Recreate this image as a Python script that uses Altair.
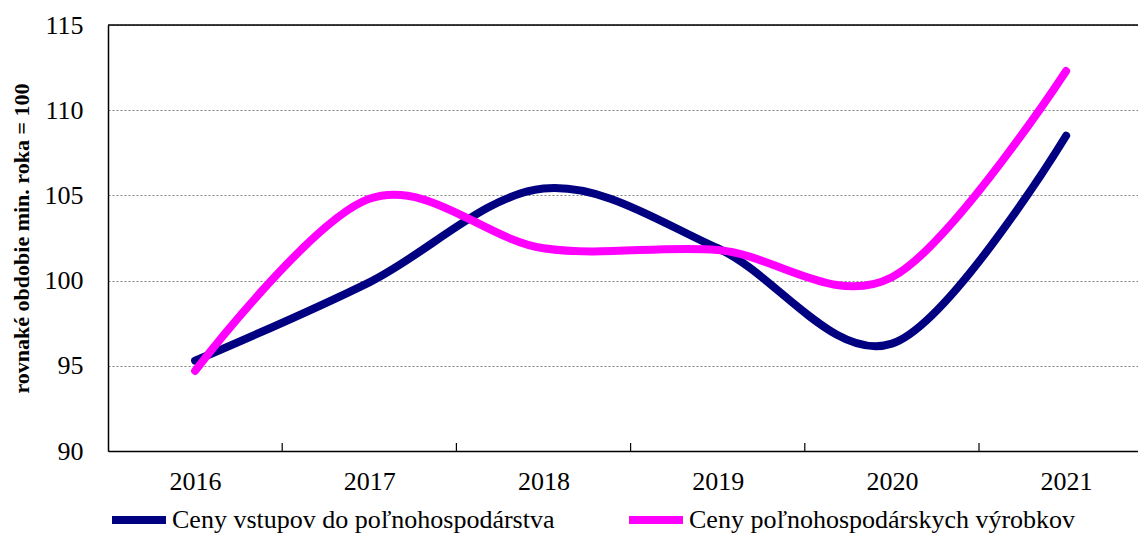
import altair as alt
import pandas as pd

years = [2016, 2017, 2018, 2019, 2020, 2021]
series_names = ["Ceny vstupov do poľnohospodárstva", "Ceny poľnohospodárskych výrobkov"]
inputs = [95.3, 99.9, 105.4, 101.9, 96.3, 108.5]
outputs = [94.7, 104.8, 101.9, 101.8, 100.2, 112.3]
colors = ["#000080", "#FF00FF"]
y_ticks = [90, 95, 100, 105, 110, 115]
boundaries = [2016.5, 2017.5, 2018.5, 2019.5, 2020.5]

rows = []
for name, vals in zip(series_names, [inputs, outputs]):
    for yr, v in zip(years, vals):
        rows.append({"rok": yr, "hodnota": v, "rad": name})
df = pd.DataFrame(rows)

W = 1030
H = 426
STEP = 174.2
x_domain = [2015.5, 2015.5 + W / STEP]
FONT = "Liberation Serif"

x_scale = alt.Scale(domain=x_domain, nice=False, zero=False)
y_scale = alt.Scale(domain=[90, 115], nice=False, zero=False)

lines = alt.Chart(df).mark_line(
    interpolate="cardinal", strokeWidth=8, strokeCap="round", strokeJoin="round"
).encode(
    x=alt.X("rok:Q", scale=x_scale,
            axis=alt.Axis(values=years, format="d", ticks=False, grid=False,
                          domain=True, domainColor="black", domainWidth=1.5,
                          labelFont=FONT, labelFontSize=26, labelColor="black",
                          labelPadding=17, title=None, labelFlush=False)),
    y=alt.Y("hodnota:Q", scale=y_scale,
            axis=alt.Axis(values=y_ticks, grid=True, gridColor="#808080",
                          gridDash=[2, 2], gridWidth=1, ticks=False,
                          domain=True, domainColor="black", domainWidth=1.5,
                          labelFont=FONT, labelFontSize=26, labelColor="black",
                          labelPadding=25, title="rovnaké obdobie min. roka = 100",
                          titleFont=FONT, titleFontSize=22, titleFontWeight="bold",
                          titleColor="black", titlePadding=11)),
    color=alt.Color("rad:N", scale=alt.Scale(domain=series_names, range=colors),
                    legend=alt.Legend(title=None, orient="none", legendX=0, legendY=464,
                                      direction="horizontal", columns=2,
                                      symbolType="stroke", symbolSize=2916,
                                      symbolStrokeWidth=8, labelFont=FONT,
                                      labelFontSize=26, labelColor="black",
                                      labelOffset=2, columnPadding=58, padding=0,
                                      labelLimit=700)),
    order=alt.Order("rok:Q"),
)

bdf = pd.DataFrame({"b": boundaries})
ticks = alt.Chart(bdf).mark_rule(color="black", strokeWidth=1.2).encode(
    x=alt.X("b:Q", scale=x_scale),
    y=alt.value(H - 8),
    y2=alt.value(H),
)

top = alt.Chart(pd.DataFrame({"v": [115]})).mark_rule(color="black", strokeWidth=1.5).encode(
    y=alt.Y("v:Q", scale=y_scale),
)

chart = alt.layer(lines, ticks, top).properties(
    width=W, height=H,
    padding={"left": 100, "top": 17, "right": 0, "bottom": 84},
    autosize=alt.AutoSizeParams(type="none"),
).configure_view(stroke=None).configure(background="white")

chart.save("out.html", embed_options={"renderer": "svg", "actions": False})
